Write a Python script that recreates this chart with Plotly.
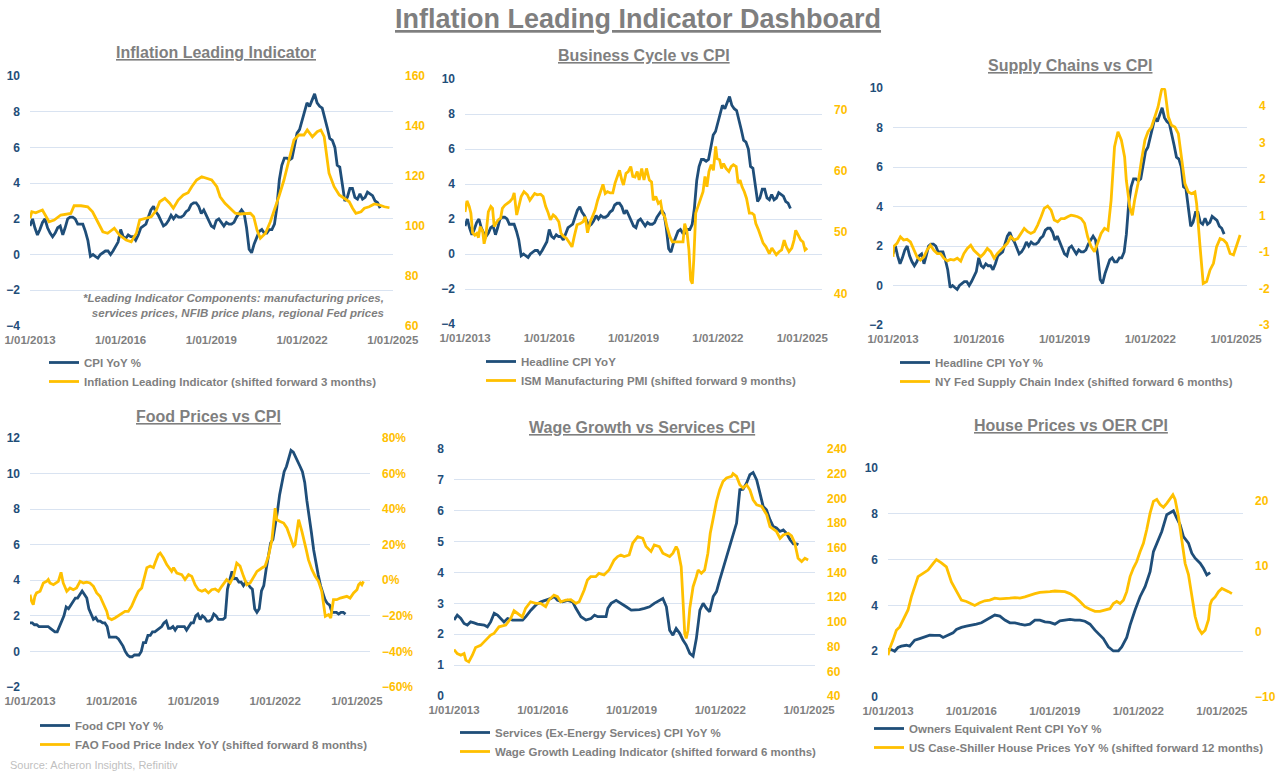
import pandas as pd
import plotly.graph_objects as go

# ---------------- DATA ----------------
# Headline CPI YoY %, monthly from 2013-01
cpi_headline = [1.6,2.0,1.5,1.1,1.4,1.8,2.0,1.5,1.2,1.0,1.2,1.5,
                1.6,1.1,1.5,2.0,2.1,2.1,2.0,1.7,1.7,1.7,1.3,0.8,
                -0.1,0.0,-0.1,-0.2,0.0,0.1,0.2,0.2,0.0,0.2,0.5,0.7,
                1.4,1.0,0.9,1.1,1.0,1.0,0.8,1.1,1.5,1.6,1.7,2.1,
                2.5,2.7,2.4,2.2,1.9,1.6,1.7,1.9,2.2,2.0,2.2,2.1,
                2.1,2.2,2.4,2.5,2.8,2.9,2.9,2.7,2.3,2.5,2.2,1.9,
                1.6,1.5,1.9,2.0,1.8,1.6,1.8,1.7,1.7,1.8,2.1,2.3,
                2.5,2.3,1.5,0.3,0.1,0.6,1.0,1.3,1.4,1.2,1.2,1.4,
                1.4,1.7,2.6,4.2,5.0,5.4,5.4,5.3,5.4,6.2,6.8,7.0,
                7.5,7.9,8.5,8.3,8.6,9.0,8.5,8.3,8.2,7.7,7.1,6.5,
                6.4,6.0,5.0,4.9,4.0,3.0,3.2,3.7,3.7,3.2,3.1,3.4,
                3.1,3.2,3.5,3.4,3.3,3.0,2.9,2.6]

# Food CPI YoY %, monthly from 2013-01
cpi_food = [1.6,1.6,1.5,1.5,1.4,1.4,1.4,1.4,1.4,1.3,1.2,1.1,
            1.1,1.4,1.7,2.0,2.5,2.4,2.6,2.8,3.0,3.0,3.2,3.4,
            3.2,3.0,2.4,2.1,1.8,1.9,1.7,1.7,1.6,1.6,1.4,0.8,
            0.8,0.8,0.8,0.7,0.5,0.3,0.0,-0.2,-0.3,-0.3,-0.2,-0.2,
            -0.2,0.0,0.5,0.5,0.9,0.9,1.1,1.1,1.2,1.3,1.4,1.6,
            1.7,1.3,1.3,1.4,1.2,1.4,1.4,1.4,1.4,1.2,1.4,1.6,
            1.6,2.0,2.1,1.8,2.0,1.9,1.7,1.7,1.8,2.1,2.0,1.8,
            1.8,1.8,1.9,3.5,4.0,4.5,4.1,4.1,3.9,3.9,3.7,3.9,
            3.8,3.6,3.5,2.4,2.2,2.4,3.4,3.7,4.6,5.3,6.1,6.3,
            7.0,7.9,8.8,9.4,10.1,10.4,10.9,11.3,11.2,10.9,10.6,10.4,
            10.1,9.5,8.5,7.7,6.7,5.7,4.9,4.3,3.7,3.3,2.9,2.7,
            2.6,2.2,2.2,2.2,2.1,2.2,2.2,2.1]

# Inflation Leading Indicator (shifted forward 3 months)
ili_t = [2013.00,2013.06,2013.19,2013.41,2013.63,2013.80,2014.02,2014.19,2014.35,2014.46,2014.69,2014.91,
         2015.07,2015.24,2015.41,2015.57,2015.79,2015.96,2016.18,2016.35,2016.52,2016.63,2016.85,2017.01,
         2017.18,2017.29,2017.46,2017.62,2017.74,2017.90,2018.07,2018.23,2018.35,2018.51,2018.68,2018.84,
         2019.01,2019.18,2019.29,2019.45,2019.62,2019.79,2019.95,2020.12,2020.29,2020.40,2020.51,2020.62,
         2020.79,2020.95,2021.12,2021.23,2021.40,2021.56,2021.73,2021.89,2022.06,2022.17,2022.34,2022.50,
         2022.62,2022.73,2022.89,2023.06,2023.23,2023.39,2023.56,2023.67,2023.78,2023.95,2024.06,2024.22,
         2024.39,2024.56,2024.72,2024.89]
ili_v = [103.1,105.7,105.3,106.4,101.7,102.4,104.4,104.8,105.0,108.1,108.1,107.7,
         105.7,101.7,97.7,97.1,99.1,96.4,94.4,93.7,97.1,102.4,103.1,103.7,
         106.4,109.7,111.1,109.1,107.1,110.4,112.4,113.3,115.7,118.4,119.7,119.1,
         118.4,115.7,111.7,109.1,107.1,105.1,104.8,105.1,105.1,103.7,98.4,95.1,
         97.1,101.7,107.7,111.7,118.4,126.4,134.4,136.4,136.4,138.4,135.7,137.7,
         138.4,135.7,121.1,115.7,112.4,111.1,109.7,107.1,105.1,105.7,107.1,107.7,
         108.8,108.4,107.7,107.3]

# ISM Manufacturing PMI (shifted forward 9 months)
ism_t = [2013.00,2013.07,2013.15,2013.21,2013.27,2013.35,2013.42,2013.48,2013.54,2013.63,2013.68,2013.74,
         2013.83,2013.92,2013.98,2014.04,2014.10,2014.18,2014.27,2014.33,2014.42,2014.51,2014.60,2014.69,
         2014.75,2014.84,2014.92,2015.00,2015.10,2015.22,2015.31,2015.39,2015.48,2015.57,2015.69,2015.78,
         2015.87,2015.95,2016.04,2016.14,2016.22,2016.34,2016.42,2016.51,2016.61,2016.73,2016.81,2016.89,
         2016.99,2017.10,2017.20,2017.28,2017.36,2017.46,2017.55,2017.63,2017.72,2017.81,2017.91,2017.99,
         2018.07,2018.17,2018.26,2018.34,2018.42,2018.50,2018.58,2018.64,2018.73,2018.81,2018.90,2018.97,
         2019.05,2019.13,2019.20,2019.29,2019.37,2019.46,2019.56,2019.64,2019.70,2019.79,2019.88,2019.96,
         2020.03,2020.11,2020.19,2020.29,2020.38,2020.48,2020.57,2020.67,2020.76,2020.82,2020.90,2020.97,
         2021.03,2021.09,2021.14,2021.21,2021.29,2021.37,2021.47,2021.54,2021.61,2021.68,2021.76,2021.84,
         2021.92,2021.97,2022.06,2022.13,2022.20,2022.29,2022.39,2022.47,2022.55,2022.65,2022.72,2022.79,
         2022.86,2022.94,2023.02,2023.12,2023.21,2023.29,2023.35,2023.45,2023.53,2023.61,2023.71,2023.83,
         2023.92,2024.00,2024.08,2024.18,2024.27,2024.36,2024.44,2024.53,2024.63,2024.71,2024.77,2024.86,
         2024.95,2025.03,2025.10,2025.18]
ism_v = [53.3,55.1,54.2,53.1,49.9,49.5,49.8,49.1,50.9,50.1,48.1,49.3,
         53.3,54.2,53.9,50.9,51.4,52.0,52.3,53.9,54.4,54.7,55.0,55.5,
         56.4,52.8,54.4,55.8,56.6,56.1,55.2,55.8,56.3,56.1,56.2,55.8,
         54.2,53.3,52.0,52.8,52.5,51.7,49.8,49.3,49.0,48.2,47.6,49.3,
         51.2,51.4,51.7,52.5,49.9,51.7,52.8,53.6,55.2,56.3,57.8,56.3,
         56.6,56.4,56.4,58.0,59.1,60.1,58.5,57.7,59.6,59.9,60.7,59.1,
         59.0,59.9,58.5,60.4,58.5,60.4,58.5,58.2,55.2,55.8,54.7,55.0,
         53.1,52.5,50.9,49.3,48.4,48.4,48.3,48.4,48.4,51.4,50.1,47.1,
         42.2,41.6,45.4,53.1,54.2,55.0,56.6,59.1,57.4,59.9,61.0,60.1,
         64.0,62.0,61.8,60.4,61.2,60.4,59.9,60.7,61.0,60.7,58.0,58.5,
         57.4,56.6,55.5,53.1,53.1,52.8,51.4,50.3,49.3,48.2,47.6,46.5,
         47.4,46.8,46.3,46.8,47.1,48.7,47.6,46.8,47.4,48.7,50.3,49.5,
         48.7,48.4,47.1,47.4]

# NY Fed Supply Chain Index (shifted forward 6 months), in axis position units
gscpi_t = [2013.00,2013.02,2013.14,2013.26,2013.37,2013.49,2013.61,2013.73,2013.84,2013.96,2014.08,2014.19,
           2014.31,2014.43,2014.55,2014.66,2014.78,2014.90,2015.01,2015.13,2015.25,2015.37,2015.48,2015.60,
           2015.72,2015.83,2015.95,2016.07,2016.18,2016.30,2016.42,2016.54,2016.65,2016.77,2016.89,2017.00,
           2017.12,2017.24,2017.36,2017.47,2017.59,2017.71,2017.82,2017.94,2018.06,2018.18,2018.29,2018.41,
           2018.53,2018.64,2018.76,2018.88,2019.00,2019.11,2019.23,2019.35,2019.46,2019.58,2019.70,2019.81,
           2019.93,2020.05,2020.17,2020.28,2020.40,2020.52,2020.63,2020.75,2020.87,2020.99,2021.10,2021.16,
           2021.28,2021.37,2021.45,2021.57,2021.69,2021.81,2021.92,2022.04,2022.16,2022.27,2022.39,2022.45,
           2022.51,2022.63,2022.74,2022.86,2022.98,2023.09,2023.21,2023.33,2023.44,2023.56,2023.62,2023.74,
           2023.85,2023.97,2024.09,2024.21,2024.32,2024.44,2024.56,2024.67,2024.79,2024.91,2025.03,2025.14]
gscpi_v = [-0.13,0.15,0.24,0.42,0.33,0.35,0.28,0.05,-0.13,-0.22,-0.13,0.05,
           0.19,0.05,-0.04,-0.04,-0.17,-0.24,-0.20,-0.22,-0.17,-0.25,-0.04,0.10,
           0.19,0.05,-0.04,-0.13,-0.04,0.10,0.01,-0.17,-0.04,0.05,0.15,0.24,
           0.42,0.33,0.37,0.51,0.65,0.56,0.51,0.56,0.74,0.97,1.20,1.26,
           1.15,0.88,0.83,0.92,0.92,0.97,1.01,0.99,0.97,0.92,0.79,0.42,
           0.15,0.01,0.28,0.51,0.65,0.60,1.42,2.89,3.30,3.07,2.61,1.97,
           1.24,1.01,1.42,1.88,2.52,3.07,3.30,3.43,3.71,3.98,4.44,4.53,
           4.44,3.71,3.48,3.43,3.25,2.52,1.88,1.65,1.60,1.65,1.33,0.15,
           -0.86,-0.81,-0.49,-0.31,0.15,0.37,0.33,0.24,-0.04,-0.08,0.24,0.47]

# FAO Food Price Index YoY % (shifted forward 8 months)
fao_t = [2013.00,2013.06,2013.12,2013.18,2013.24,2013.37,2013.49,2013.61,2013.67,2013.73,2013.86,2014.04,
         2014.14,2014.22,2014.35,2014.47,2014.59,2014.71,2014.84,2014.96,2015.08,2015.20,2015.33,2015.45,
         2015.57,2015.69,2015.82,2015.88,2016.00,2016.12,2016.31,2016.49,2016.61,2016.73,2016.86,2016.98,
         2017.10,2017.16,2017.29,2017.41,2017.53,2017.59,2017.71,2017.78,2017.90,2018.02,2018.14,2018.20,
         2018.27,2018.39,2018.57,2018.69,2018.82,2018.94,2019.06,2019.18,2019.31,2019.43,2019.55,2019.67,
         2019.80,2019.92,2020.04,2020.22,2020.35,2020.47,2020.59,2020.71,2020.84,2020.96,2021.08,2021.20,
         2021.33,2021.51,2021.63,2021.75,2021.88,2022.00,2022.06,2022.18,2022.31,2022.43,2022.55,2022.67,
         2022.73,2022.80,2022.86,2022.98,2023.06,2023.14,2023.22,2023.35,2023.47,2023.59,2023.71,2023.84,
         2023.96,2024.04,2024.14,2024.26,2024.39,2024.51,2024.63,2024.75,2024.88,2025.00,2025.06,2025.12,
         2025.18,2025.24]
fao_v = [-8.1,-11.8,-13.7,-9.0,-7.1,-6.2,-1.5,-0.6,0.4,-1.5,-2.5,-0.6,
         4.5,-1.5,-6.2,-4.3,-5.3,-4.3,-0.6,-1.5,-1.1,-1.5,-3.4,-7.1,
         -9.0,-12.8,-17.5,-21.2,-22.1,-21.2,-19.3,-17.5,-17.5,-14.6,-10.0,-6.2,
         -4.3,-0.6,7.1,8.0,7.1,9.7,14.4,15.3,12.5,8.8,6.0,5.0,
         7.1,4.1,3.2,0.4,3.2,2.2,-2.5,-5.3,-6.2,-5.3,-7.1,-5.3,
         -4.9,-6.2,-3.4,0.4,-1.5,2.2,9.7,8.0,2.2,-2.5,-1.5,1.3,
         5.0,6.9,8.0,13.5,22.8,40.6,34.0,33.0,32.2,29.4,23.8,19.1,
         20.0,27.5,34.1,27.5,22.8,17.2,11.6,6.0,2.2,-0.6,-6.2,-20.3,
         -19.3,-21.2,-10.9,-10.9,-10.0,-9.6,-9.0,-10.0,-7.1,-5.3,-2.5,-1.5,
         -2.5,-0.6]

# Services (Ex-Energy Services) CPI YoY %
svc_t = [2013.00,2013.11,2013.23,2013.34,2013.45,2013.56,2013.68,2013.79,2014.02,2014.13,2014.24,2014.36,
         2014.47,2014.58,2014.69,2014.81,2014.98,2015.32,2015.43,2015.60,2015.77,2015.94,2016.11,2016.28,
         2016.39,2016.50,2016.67,2016.84,2017.01,2017.12,2017.29,2017.46,2017.63,2017.75,2017.86,2018.14,
         2018.20,2018.31,2018.48,2018.65,2018.82,2018.99,2019.27,2019.44,2019.61,2019.77,2019.94,2020.06,
         2020.18,2020.29,2020.40,2020.51,2020.63,2020.74,2020.85,2020.97,2021.08,2021.19,2021.31,2021.42,
         2021.53,2021.64,2021.76,2021.87,2021.98,2022.10,2022.21,2022.32,2022.44,2022.55,2022.66,2022.77,
         2022.89,2023.00,2023.11,2023.23,2023.34,2023.45,2023.56,2023.68,2023.79,2023.90,2024.02,2024.13,
         2024.24,2024.36,2024.47,2024.58,2024.64]
svc_v = [2.46,2.62,2.51,2.35,2.30,2.40,2.37,2.33,2.30,2.24,2.40,2.68,
         2.62,2.51,2.40,2.51,2.46,2.46,2.57,2.78,2.95,3.05,3.10,3.16,
         3.22,3.10,3.05,3.10,3.05,2.84,2.57,2.46,2.51,2.62,2.57,2.57,
         2.84,3.00,3.10,2.98,2.89,2.78,2.80,2.84,2.89,3.00,3.10,3.16,
         2.89,2.13,1.97,2.19,2.03,1.81,1.65,1.38,1.29,1.86,2.78,3.00,
         2.84,2.73,3.22,3.38,3.76,4.14,4.52,4.89,5.27,5.60,6.68,6.70,
         6.90,7.17,7.24,7.00,6.57,6.14,6.03,5.71,5.49,5.44,5.33,5.38,
         5.27,5.06,4.93,4.93,4.90]

# Wage Growth Leading Indicator (shifted forward 6 months)
wage_t = [2013.00,2013.11,2013.23,2013.34,2013.40,2013.50,2013.62,2013.73,2013.90,2014.07,2014.24,2014.35,
          2014.52,2014.75,2014.92,2015.03,2015.20,2015.31,2015.42,2015.59,2015.76,2015.93,2016.10,2016.21,
          2016.38,2016.50,2016.61,2016.78,2016.95,2017.12,2017.23,2017.40,2017.51,2017.62,2017.79,2017.90,
          2018.07,2018.24,2018.41,2018.53,2018.64,2018.75,2018.92,2019.04,2019.21,2019.38,2019.49,2019.66,
          2019.77,2019.94,2020.06,2020.29,2020.40,2020.51,2020.57,2020.68,2020.74,2020.80,2020.85,2020.91,
          2020.97,2021.08,2021.19,2021.25,2021.36,2021.47,2021.58,2021.66,2021.75,2021.87,2021.98,2022.09,
          2022.21,2022.38,2022.43,2022.55,2022.66,2022.77,2022.89,2023.00,2023.11,2023.23,2023.40,2023.57,
          2023.68,2023.90,2024.02,2024.13,2024.30,2024.41,2024.52,2024.63,2024.75,2024.86,2024.97]
wage_v = [77.6,74.4,73.0,74.4,69.0,67.6,73.0,79.3,81.0,85.0,89.3,90.6,
          96.0,97.4,103.0,109.0,105.5,104.0,111.0,116.3,115.0,115.0,112.3,117.7,
          121.7,120.4,116.3,117.7,118.0,115.0,116.3,125.8,134.0,136.6,136.6,139.3,
          138.0,142.0,150.0,152.9,154.2,152.9,154.2,163.7,169.0,167.7,161.0,157.0,
          162.3,161.0,155.6,152.9,155.6,161.0,158.3,144.7,117.7,90.6,86.6,93.3,
          111.0,128.5,136.6,142.0,139.3,142.0,155.6,171.8,182.6,197.5,207.0,213.7,
          216.5,217.8,220.0,217.8,211.0,208.3,211.0,207.0,198.9,194.8,193.5,186.7,
          177.2,173.2,167.7,170.4,171.8,169.6,163.7,151.5,148.8,151.5,150.1]

# Owners Equivalent Rent CPI YoY %
oer_t = [2013.00,2013.12,2013.24,2013.36,2013.48,2013.66,2013.78,2013.96,2014.14,2014.32,2014.50,2014.68,
         2014.86,2014.98,2015.16,2015.34,2015.46,2015.64,2015.82,2016.00,2016.18,2016.36,2016.54,2016.72,
         2016.84,2017.02,2017.20,2017.38,2017.56,2017.74,2017.92,2018.10,2018.28,2018.46,2018.64,2018.82,
         2019.00,2019.18,2019.36,2019.54,2019.72,2019.90,2020.08,2020.26,2020.44,2020.56,2020.74,2020.92,
         2021.10,2021.28,2021.40,2021.58,2021.70,2021.88,2022.06,2022.24,2022.42,2022.54,2022.66,2022.84,
         2023.02,2023.14,2023.26,2023.38,2023.50,2023.62,2023.80,2023.92,2024.04,2024.22,2024.34,2024.46,
         2024.58]
oer_v = [2.07,2.07,2.00,2.16,2.22,2.26,2.22,2.48,2.55,2.63,2.70,2.69,
         2.69,2.60,2.70,2.80,2.95,3.04,3.09,3.12,3.18,3.24,3.36,3.50,
         3.58,3.53,3.36,3.24,3.24,3.18,3.14,3.18,3.36,3.36,3.28,3.26,
         3.18,3.33,3.36,3.39,3.36,3.36,3.31,3.18,2.92,2.77,2.55,2.19,
         2.01,2.01,2.19,2.60,3.14,3.80,4.38,4.82,5.47,6.35,6.72,7.23,
         7.96,8.03,8.13,7.81,7.52,7.00,6.72,6.28,6.06,5.84,5.62,5.33,
         5.43]

# US Case-Shiller House Prices YoY % (shifted forward 12 months)
cs_t = [2013.00,2013.06,2013.18,2013.30,2013.42,2013.54,2013.72,2013.84,2013.96,2014.08,2014.26,2014.44,
        2014.62,2014.74,2014.92,2015.10,2015.28,2015.46,2015.64,2015.82,2016.00,2016.12,2016.30,2016.48,
        2016.66,2016.84,2017.02,2017.20,2017.38,2017.56,2017.74,2017.92,2018.10,2018.28,2018.46,2018.64,
        2018.82,2019.00,2019.18,2019.36,2019.54,2019.72,2019.90,2020.08,2020.26,2020.44,2020.62,2020.80,
        2020.98,2021.10,2021.22,2021.34,2021.46,2021.58,2021.70,2021.82,2021.94,2022.06,2022.18,2022.30,
        2022.42,2022.54,2022.66,2022.78,2022.90,2023.02,2023.14,2023.24,2023.32,2023.44,2023.56,2023.68,
        2023.80,2023.92,2024.04,2024.16,2024.28,2024.40,2024.52,2024.58,2024.64,2024.76,2024.88,2025.00,
        2025.12,2025.24,2025.36]
cs_v = [-3.6,-2.6,-1.3,0.2,0.7,1.8,3.3,5.3,6.9,8.4,8.9,9.4,
        10.4,11.0,10.5,9.9,7.6,6.1,4.8,4.6,4.2,4.0,4.4,4.7,
        4.8,5.1,5.0,5.0,5.1,5.2,5.1,5.3,5.6,5.8,6.0,6.0,
        6.1,6.2,6.2,6.1,5.8,5.3,4.6,3.8,3.4,3.1,3.1,3.3,
        3.5,4.3,4.6,4.3,4.8,6.1,8.4,9.7,10.7,12.2,13.5,15.6,
        18.1,19.9,20.2,19.4,19.0,19.6,20.4,20.9,20.2,17.6,14.0,10.4,
        8.7,5.3,2.3,0.5,-0.3,0.2,1.8,4.1,4.8,5.3,6.1,6.6,
        6.4,6.1,5.8]

x_tick_dates = ["2013-01-01", "2016-01-01", "2019-01-01", "2022-01-01", "2025-01-01"]
x_tick_text = ["1/01/2013", "1/01/2016", "1/01/2019", "1/01/2022", "1/01/2025"]

supply_tickvals = [-2, -1, 0, 1, 2, 3, 4]
supply_ticktext = ["-3", "-2", "-1", "1", "2", "3", "4"]

# ---------------- HELPERS ----------------
W, H = 1280, 771
BLUE = "#1F4E79"
GOLD = "#FFC000"
GRAY = "#7F7F7F"
GRID = "#D9E3F1"
FONT = "Liberation Sans, Arial, sans-serif"


def monthly(values):
    return pd.date_range("2013-01-01", periods=len(values), freq="MS")


def dec_dates(years):
    out = []
    for y in years:
        yi = int(y)
        out.append(pd.Timestamp(yi, 1, 1) + pd.Timedelta(days=(y - yi) * 365.25))
    return out


def px(x):
    return x / W


def py(y):
    return 1 - y / H


fig = go.Figure()

panels = [
    dict(title="Inflation Leading Indicator", tpos=(216, 53), box=(30, 393, 76, 326), xend="2025-01-03",
         yl=([-4, 10], 2), yr=dict(range=[60, 160], dtick=20), leg=(44, 348),
         blue=("CPI YoY %", monthly(cpi_headline), cpi_headline),
         gold=("Inflation Leading Indicator (shifted forward 3 months)", dec_dates(ili_t), ili_v)),
    dict(title="Business Cycle vs CPI", tpos=(644, 56), box=(465, 822, 79, 324), xend="2025-09-15",
         yl=([-4, 10], 2), yr=dict(range=[35, 75], dtick=10), leg=(481, 347),
         blue=("Headline CPI YoY", monthly(cpi_headline), cpi_headline),
         gold=("ISM Manufacturing PMI (shifted forward 9 months)", dec_dates(ism_t), ism_v)),
    dict(title="Supply Chains vs CPI", tpos=(1070, 65), box=(893, 1247, 88, 325), xend="2025-05-20",
         yl=([-2, 10], 2), yr=dict(range=[-2, 4.5], tickvals=supply_tickvals, ticktext=supply_ticktext),
         leg=(895, 348),
         blue=("Headline CPI YoY %", monthly(cpi_headline), cpi_headline),
         gold=("NY Fed Supply Chain Index (shifted forward 6 months)", dec_dates(gscpi_t), gscpi_v)),
    dict(title="Food Prices vs CPI", tpos=(208, 416), box=(30, 370, 438, 687), xend="2025-06-25",
         yl=([-2, 12], 2), yr=dict(range=[-60, 80], dtick=20, ticksuffix="%"), leg=(35, 711),
         blue=("Food CPI YoY %", monthly(cpi_food), cpi_food),
         gold=("FAO Food Price Index YoY (shifted forward 8 months)", dec_dates(fao_t), fao_v)),
    dict(title="Wage Growth vs Services CPI", tpos=(642, 427), box=(454, 815, 449, 696), xend="2025-03-15",
         yl=([0, 8], 1), yr=dict(range=[40, 240], dtick=20), leg=(455, 718),
         blue=("Services (Ex-Energy Services) CPI YoY %", dec_dates(svc_t), svc_v),
         gold=("Wage Growth Leading Indicator (shifted forward 6 months)", dec_dates(wage_t), wage_v)),
    dict(title="House Prices vs OER CPI", tpos=(1071, 425), box=(888, 1243, 468, 697), xend="2025-10-05",
         yl=([0, 10], 2), yr=dict(range=[-10, 25], dtick=10), leg=(869, 714),
         blue=("Owners Equivalent Rent CPI YoY %", dec_dates(oer_t), oer_v),
         gold=("US Case-Shiller House Prices YoY % (shifted forward 12 months)", dec_dates(cs_t), cs_v)),
]

annotations = []
for i, p in enumerate(panels, start=1):
    xa = "x" if i == 1 else f"x{i}"
    yl = "y" if i == 1 else f"y{2 * i - 1}"
    yr = f"y{2 * i}"
    leg = "legend" if i == 1 else f"legend{i}"
    l, r, t, b = p["box"]

    fig.add_trace(go.Scatter(x=p["blue"][1], y=p["blue"][2], name=p["blue"][0], mode="lines",
                             line=dict(color=BLUE, width=2.8), xaxis=xa, yaxis=yl, legend=leg))
    fig.add_trace(go.Scatter(x=p["gold"][1], y=p["gold"][2], name=p["gold"][0], mode="lines",
                             line=dict(color=GOLD, width=2.8), xaxis=xa, yaxis=yr, legend=leg))

    xkey = "xaxis" if i == 1 else f"xaxis{i}"
    ylkey = "yaxis" if i == 1 else f"yaxis{2 * i - 1}"
    yrkey = f"yaxis{2 * i}"
    fig.layout[xkey] = dict(domain=[px(l), px(r)], anchor=yl, type="date", automargin=False,
                            range=["2013-01-01", p["xend"]], tickvals=x_tick_dates, ticktext=x_tick_text,
                            showgrid=False, zeroline=False, showline=False, ticks="",
                            ticklabelstandoff=5,
                            tickfont=dict(family=FONT, size=11.5, color=GRAY, weight="bold"))
    fig.layout[ylkey] = dict(domain=[py(b), py(t)], anchor=xa, range=p["yl"][0], dtick=p["yl"][1],
                             automargin=False,
                             showgrid=True, gridcolor=GRID, gridwidth=1, zeroline=False, showline=False,
                             ticks="", ticklabelstandoff=9,
                             tickfont=dict(family=FONT, size=12, color=BLUE, weight="bold"))
    rcfg = dict(overlaying=yl, side="right", anchor=xa, showgrid=False, zeroline=False, showline=False,
                automargin=False, ticks="", ticklabelstandoff=11,
                tickfont=dict(family=FONT, size=12, color=GOLD, weight="bold"))
    rcfg.update(p["yr"])
    fig.layout[yrkey] = rcfg

    lx, ly = p["leg"]
    fig.layout[leg] = dict(x=px(lx), y=py(ly), xanchor="left", yanchor="top", orientation="v",
                           bgcolor="rgba(0,0,0,0)", tracegroupgap=0, itemwidth=30,
                           font=dict(family=FONT, size=11.5, color=GRAY, weight="bold"))

    annotations.append(dict(text=f"<u>{p['title']}</u>", x=px(p["tpos"][0]), y=py(p["tpos"][1]),
                            xref="paper", yref="paper", xanchor="center", yanchor="middle",
                            showarrow=False,
                            font=dict(family=FONT, size=16, color=GRAY, weight="bold")))

annotations.append(dict(text="<u>Inflation Leading Indicator Dashboard</u>", x=px(638), y=py(19),
                        xref="paper", yref="paper", xanchor="center", yanchor="middle", showarrow=False,
                        font=dict(family=FONT, size=27, color=GRAY, weight="bold")))
annotations.append(dict(text="<i>*Leading Indicator Components: manufacturing prices,<br>"
                             "services prices, NFIB price plans, regional Fed prices</i>",
                        x=px(386), y=py(306), xref="paper", yref="paper", xanchor="right",
                        yanchor="middle", align="right", showarrow=False,
                        font=dict(family=FONT, size=11.5, color=GRAY, weight="bold")))
annotations.append(dict(text="Source: Acheron Insights, Refinitiv", x=px(8), y=py(765),
                        xref="paper", yref="paper", xanchor="left", yanchor="middle", showarrow=False,
                        font=dict(family=FONT, size=11, color="#BFBFBF")))

fig.update_layout(template="none", width=W, height=H,
                  margin=dict(l=0, r=0, t=0, b=0, autoexpand=False),
                  paper_bgcolor="white", plot_bgcolor="white", showlegend=True,
                  annotations=annotations, font=dict(family=FONT))

fig.write_html("out.html", include_plotlyjs=True, full_html=True,
               config={"displayModeBar": False})
